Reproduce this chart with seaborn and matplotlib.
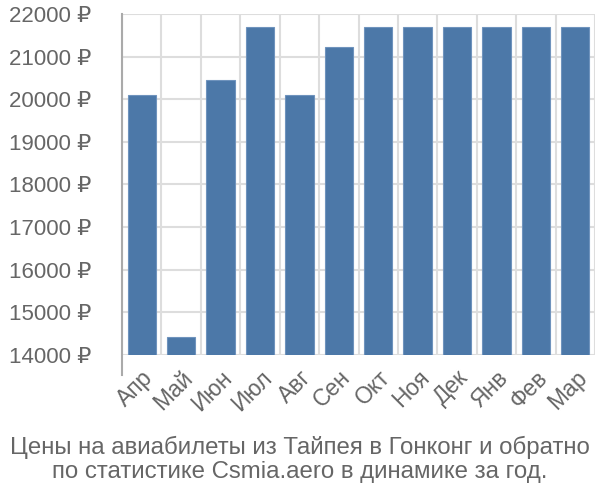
import matplotlib
matplotlib.use("Agg")
import matplotlib.pyplot as plt
import seaborn as sns
import pandas as pd
import numpy as np

months = ["Апр", "Май", "Июн", "Июл", "Авг", "Сен", "Окт", "Ноя", "Дек", "Янв", "Фев", "Мар"]
prices = [20090, 14430, 20460, 21690, 20090, 21220, 21690, 21690, 21690, 21690, 21690, 21690]
yticks = [14000, 15000, 16000, 17000, 18000, 19000, 20000, 21000, 22000]
title_lines = ["Цены на авиабилеты из Тайпея в Гонконг и обратно",
               "по статистике Csmia.aero в динамике за год."]

sns.set_theme(style="white")
plt.rcParams['font.family'] = ['Liberation Sans', 'DejaVu Sans']

df = pd.DataFrame({"month": months, "price": prices})

fig = plt.figure(figsize=(6, 5), dpi=100)
ax = fig.add_axes([122/600, 1 - 355/500, (595-122)/600, (355-14)/500])

sns.barplot(data=df, x="month", y="price", color="#4c78a8", width=0.72,
            edgecolor="#6f93bd", linewidth=0.8, ax=ax, zorder=3, saturation=1)

ax.set_ylim(14000, 22000)
ax.set_xlim(-0.5, len(months) - 0.5)
ax.set_yticks(yticks)
ax.set_yticklabels([f"{v} ₽" for v in yticks])
ax.set_xticks(np.arange(len(months)))
ax.set_xticklabels(months, rotation=45, ha="right", rotation_mode="anchor")
ax.set_xticks(np.arange(-0.5, len(months), 1.0), minor=True)

ax.set_xlabel("")
ax.set_ylabel("")

ax.grid(False)
ax.yaxis.grid(True, color="#dddddd", linewidth=1.5, zorder=0)
ax.xaxis.grid(True, which="minor", color="#dddddd", linewidth=1.5, zorder=0)

ax.tick_params(axis="y", length=20, color="#dddddd", width=1.5, labelsize=16,
               labelcolor="#666666", pad=2)
ax.tick_params(axis="x", which="major", length=0, labelsize=16.5, labelcolor="#666666", pad=8)
ax.tick_params(axis="x", which="minor", length=20, color="#dddddd", width=1.5)

for s in ["top", "right", "bottom"]:
    ax.spines[s].set_visible(False)
ax.spines["left"].set_color("#aaaaaa")
ax.spines["left"].set_linewidth(1.5)
ax.spines["left"].set_bounds(13530, 22000)

fig.text(0.5, 1 - 447/500, title_lines[0], ha="center", va="center",
         fontsize=17.3, color="#666666")
fig.text(0.5, 1 - 472/500, title_lines[1], ha="center", va="center",
         fontsize=17.3, color="#666666")

fig.savefig("out.png", dpi=100)
